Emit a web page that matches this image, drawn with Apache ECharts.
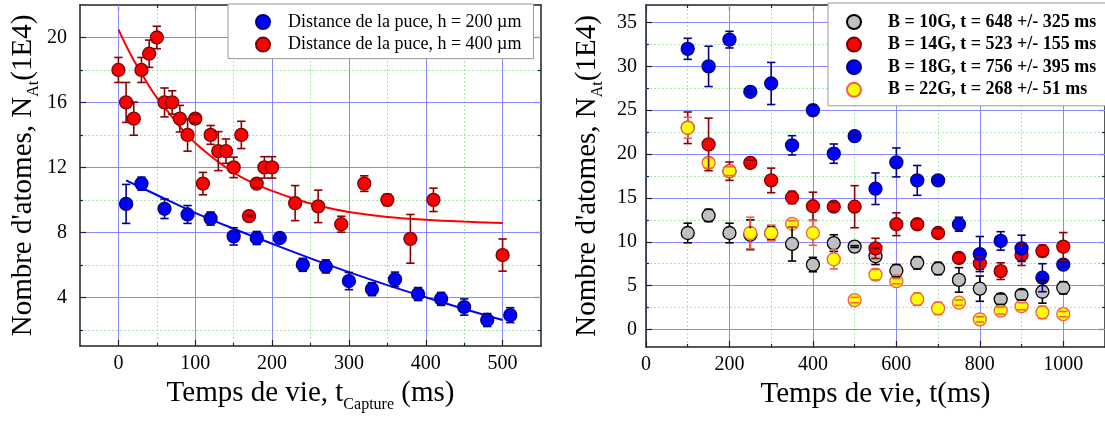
<!DOCTYPE html>
<html><head><meta charset="utf-8">
<script src="https://cdn.jsdelivr.net/npm/echarts@6/dist/echarts.min.js"></script>
<style>html,body{margin:0;padding:0;background:#fff}#c{width:1105px;height:424px}</style>
</head><body><div id="c"></div>
<script>
// ===== Left panel: tick values =====
const leftXTicks = [0, 100, 200, 300, 400, 500];
const leftXMinor = [50, 150, 250, 350, 450];
const leftYTicks = [4, 8, 12, 16, 20];
const leftYMinor = [2, 6, 10, 14, 18];

// ===== Left panel: h = 200 µm =====
const h200Name = 'Distance de la puce, h = 200 µm';
const h200X = [10, 30, 60, 90, 120, 150, 180, 210, 240, 270, 300, 330, 360, 390, 420, 450, 480, 510];
const h200Y = [9.75, 11.0, 9.45, 9.1, 8.85, 7.75, 7.65, 7.65, 6.0, 5.9, 5.0, 4.5, 5.1, 4.2, 3.9, 3.4, 2.6, 2.9];
const h200Err = [1.2, 0.4, 0.6, 0.55, 0.4, 0.53, 0.4, 0.05, 0.4, 0.4, 0.53, 0.4, 0.45, 0.4, 0.4, 0.5, 0.4, 0.46];
const h200FitX = [10, 50, 100, 150, 200, 250, 300, 350, 400, 450, 500];
const h200FitY = [11.2, 10.3, 9.2, 8.22, 7.3, 6.4, 5.55, 4.75, 4.0, 3.28, 2.6];

// ===== Left panel: h = 400 µm =====
const h400Name = 'Distance de la puce, h = 400 µm';
const h400X = [0, 10, 20, 30, 40, 50, 60, 70, 80, 90, 100, 110, 120, 130, 140, 150, 160, 170, 180, 190, 200, 230, 260, 290, 320, 350, 380, 410, 500];
const h400Y = [18, 16, 15, 18, 19, 20, 16, 16, 15, 14, 15, 11, 14, 13, 13, 12, 14, 9, 11, 12, 12, 9.8, 9.6, 8.5, 11, 10, 7.6, 10, 6.6];
const h400Err = [0.77, 1.23, 1.02, 0.77, 0.84, 0.69, 0.89, 0.72, 0.82, 1.0, 0.25, 0.69, 0.58, 1.2, 0.75, 0.63, 0.84, 0.05, 0.25, 0.66, 0.66, 1.08, 1.0, 0.49, 0.48, 0.35, 1.5, 0.72, 0.99];
const h400FitX = [0, 10, 20, 30, 40, 50, 60, 70, 80, 90, 100, 120, 140, 160, 180, 200, 230, 260, 300, 350, 400, 450, 500];
const h400FitY = [20.5, 19.5, 18.6, 17.8, 17.0, 16.3, 15.7, 15.1, 14.5, 14.0, 13.5, 12.7, 12.0, 11.4, 10.95, 10.55, 10.05, 9.65, 9.25, 8.95, 8.78, 8.66, 8.57];

// ===== Right panel: tick values =====
const rightXTicks = [0, 200, 400, 600, 800, 1000];
const rightXMinor = [100, 300, 500, 700, 900];
const rightYTicks = [0, 5, 10, 15, 20, 25, 30, 35];
const rightYMinor = [2.5, 7.5, 12.5, 17.5, 22.5, 27.5, 32.5];

// ===== Right panel series =====
const b10Name = 'B = 10G, t = 648 +/- 325 ms';
const b10X = [100, 150, 200, 250, 300, 350, 400, 450, 500, 550, 600, 650, 700, 750, 800, 850, 900, 950, 1000];
const b10Y = [11.0, 13.0, 11.0, 10.8, 11.0, 9.75, 7.4, 9.85, 9.45, 8.35, 6.7, 7.6, 6.95, 5.65, 4.65, 3.45, 3.95, 4.3, 4.75];
const b10Err = [1.12, 0.7, 1.12, 1.7, 0.8, 1.95, 0.82, 0.95, 0.1, 0.95, 0.7, 0.7, 0.7, 1.4, 1.44, 0.6, 0.6, 1.3, 0.7];

const b14Name = 'B = 14G, t = 523 +/- 155 ms';
const b14X = [100, 150, 200, 250, 300, 350, 400, 450, 500, 550, 600, 650, 700, 750, 800, 850, 900, 950, 1000];
const b14Y = [23.0, 21.1, 18.05, 19.0, 17.0, 15.05, 14.05, 14.0, 14.0, 9.25, 12.0, 12.0, 11.0, 8.15, 7.55, 6.65, 8.5, 8.95, 9.45];
const b14Err = [1.8, 3.0, 1.05, 0.3, 1.4, 0.7, 1.6, 0.5, 2.4, 1.15, 1.3, 0.6, 0.5, 0.6, 0.7, 0.95, 1.2, 0.65, 1.6];

const b18Name = 'B = 18G, t = 756 +/- 395 ms';
const b18X = [100, 150, 200, 250, 300, 350, 400, 450, 500, 550, 600, 650, 700, 750, 800, 850, 900, 950, 1000];
const b18Y = [32.0, 30.0, 33.05, 27.1, 28.05, 21.0, 25.0, 20.05, 22.05, 16.05, 19.05, 17.0, 17.0, 12.0, 8.6, 10.1, 9.25, 5.9, 7.4];
const b18Err = [1.2, 2.3, 0.95, 0.2, 2.4, 1.1, 0.6, 1.1, 0.15, 1.8, 1.65, 1.7, 0.15, 0.8, 2.0, 1.05, 1.5, 1.6, 0.3];

const b22Name = 'B = 22G, t = 268 +/- 51 ms';
const b22X = [100, 150, 200, 250, 300, 350, 400, 450, 500, 550, 600, 650, 700, 750, 800, 850, 900, 950, 1000];
const b22Y = [23.0, 19.0, 18.05, 11.0, 11.0, 12.05, 11.0, 8.0, 3.35, 6.25, 5.5, 3.45, 2.4, 3.05, 1.15, 2.15, 2.65, 1.95, 1.75];
const b22Err = [1.2, 0.6, 0.5, 1.8, 0.9, 0.35, 1.4, 1.1, 0.3, 0.6, 0.3, 0.7, 0.7, 0.3, 0.3, 0.4, 0.4, 0.7, 0.3];

// ===== Styling helpers =====
const F = '"Liberation Serif", "DejaVu Serif", serif';
const AXIS_COLOR = '#222';
const MAJOR_GRID = '#8a8aff';
const MINOR_GRID = '#a6e6a6';

function zip2(xs, ys) { return xs.map((x, i) => [x, ys[i]]); }
function zip3(xs, ys, es) { return xs.map((x, i) => [x, ys[i], es[i]]); }
function plainNum(v) { return String(v); }

function axisGroup(dim, gridIndex, min, max, major, minor, mainExtra) {
  const pos = dim === 'x' ? 'bottom' : 'left';
  const opp = dim === 'x' ? 'top' : 'right';
  const base = { type: 'value', gridIndex: gridIndex, min: min, max: max, scale: true };
  const main = Object.assign({}, base, {
    position: pos,
    axisLine: { show: true, onZero: false, lineStyle: { color: AXIS_COLOR, width: 1.5 } },
    axisTick: { show: true, inside: true, length: 6, customValues: major, lineStyle: { color: AXIS_COLOR, width: 1.2 } },
    axisLabel: { show: true, customValues: major, fontFamily: F, fontSize: 20, color: '#000', formatter: plainNum },
    splitLine: { show: true, lineStyle: { color: MAJOR_GRID, width: 1 } },
    z: 1
  }, mainExtra || {});
  const minorAx = Object.assign({}, base, {
    position: pos,
    axisLine: { show: false, onZero: false },
    axisTick: { show: true, inside: true, length: 3, customValues: minor, lineStyle: { color: AXIS_COLOR, width: 1.2 } },
    axisLabel: { show: false },
    splitLine: { show: true, lineStyle: { color: MINOR_GRID, width: 1, type: [2, 2] } },
    z: 0
  });
  const mirror = Object.assign({}, base, {
    position: opp,
    axisLine: { show: true, onZero: false, lineStyle: { color: AXIS_COLOR, width: 1.5 } },
    axisTick: { show: true, inside: true, length: 6, customValues: major, lineStyle: { color: AXIS_COLOR, width: 1.2 } },
    axisLabel: { show: false },
    splitLine: { show: false }
  });
  const mirrorMinor = Object.assign({}, base, {
    position: opp,
    axisLine: { show: false, onZero: false },
    axisTick: { show: true, inside: true, length: 3, customValues: minor, lineStyle: { color: AXIS_COLOR, width: 1.2 } },
    axisLabel: { show: false },
    splitLine: { show: false }
  });
  return [main, minorAx, mirror, mirrorMinor];
}

function errRender(color) {
  return function (params, api) {
    const x = api.value(0), y = api.value(1), e = api.value(2);
    const c = api.coord([x, y]);
    const t = api.coord([x, y + e]);
    const b = api.coord([x, y - e]);
    const r = 6.5, hw = 4.2;
    const st = { stroke: color, lineWidth: 1.6 };
    const ch = [
      { type: 'line', shape: { x1: t[0] - hw, y1: t[1], x2: t[0] + hw, y2: t[1] }, style: st },
      { type: 'line', shape: { x1: b[0] - hw, y1: b[1], x2: b[0] + hw, y2: b[1] }, style: st }
    ];
    if (c[1] - t[1] > r) ch.push({ type: 'line', shape: { x1: c[0], y1: t[1], x2: c[0], y2: c[1] - r }, style: st });
    if (b[1] - c[1] > r) ch.push({ type: 'line', shape: { x1: c[0], y1: c[1] + r, x2: c[0], y2: b[1] }, style: st });
    return { type: 'group', children: ch };
  };
}

function scatterSeries(name, xi, yi, xs, ys, fill, border) {
  return {
    name: name, type: 'scatter', xAxisIndex: xi, yAxisIndex: yi,
    data: zip2(xs, ys), symbol: 'circle', symbolSize: 13,
    itemStyle: { color: fill, borderColor: border, borderWidth: 1.3, opacity: 1 },
    z: 3, silent: true
  };
}
function errSeries(xi, yi, xs, ys, es, color) {
  return {
    type: 'custom', xAxisIndex: xi, yAxisIndex: yi,
    data: zip3(xs, ys, es), encode: { x: 0, y: 1 },
    renderItem: errRender(color), z: 4, silent: true
  };
}
function fitSeries(xi, yi, xs, ys, color) {
  return {
    type: 'line', xAxisIndex: xi, yAxisIndex: yi, data: zip2(xs, ys),
    showSymbol: false, symbol: 'none', smooth: 0.4,
    lineStyle: { color: color, width: 2 }, z: 2, silent: true
  };
}

const yName = "Nombre d'atomes, N{sub|At}(1E4)";
const nameStyle = {
  fontFamily: F, fontSize: 29, color: '#000',
  rich: { sub: { fontFamily: F, fontSize: 16, color: '#000', padding: [22, 0, 0, 0], verticalAlign: 'bottom' } }
};

const xAxes = [].concat(
  axisGroup('x', 0, -50, 550, leftXTicks, leftXMinor, {
    name: 'Temps de vie, t{sub|Capture} (ms)', nameLocation: 'middle', nameGap: 28, nameTextStyle: nameStyle,
    axisLabel: { show: true, customValues: leftXTicks, fontFamily: F, fontSize: 20, color: '#000', margin: 8, formatter: plainNum }
  }),
  axisGroup('x', 1, 0, 1100, rightXTicks, rightXMinor, {
    name: 'Temps de vie, t(ms)', nameLocation: 'middle', nameGap: 32, nameTextStyle: nameStyle,
    axisLabel: { show: true, customValues: rightXTicks, fontFamily: F, fontSize: 20, color: '#000', margin: 8, formatter: plainNum }
  })
);
const yAxes = [].concat(
  axisGroup('y', 0, 1, 22, leftYTicks, leftYMinor, {
    name: yName, nameLocation: 'middle', nameRotate: 90, nameGap: 38, nameTextStyle: nameStyle,
    axisLabel: { show: true, customValues: leftYTicks, fontFamily: F, fontSize: 20, color: '#000', margin: 13, formatter: plainNum }
  }),
  axisGroup('y', 1, -2, 37, rightYTicks, rightYMinor, {
    name: yName, nameLocation: 'middle', nameRotate: 90, nameGap: 40, nameTextStyle: nameStyle,
    axisLabel: { show: true, customValues: rightYTicks, fontFamily: F, fontSize: 20, color: '#000', margin: 9, formatter: plainNum }
  })
);

const legendBase = {
  orient: 'vertical', icon: 'circle', itemWidth: 14, itemHeight: 14, itemGap: 4.6,
  borderColor: '#999', borderWidth: 1, backgroundColor: '#fff', selectedMode: false,
  inactiveColor: '#000'
};

const option = {
  animation: false,
  backgroundColor: '#fff',
  grid: [
    { left: 80, top: 5, width: 461, height: 341, containLabel: false },
    { left: 646, top: 5, width: 460, height: 342, containLabel: false }
  ],
  xAxis: xAxes,
  yAxis: yAxes,
  legend: [
    Object.assign({}, legendBase, {
      data: [h200Name, h400Name], left: 228, top: 4, padding: [9, 12, 5, 27],
      textStyle: { fontFamily: F, fontSize: 18, color: '#000', lineHeight: 18, padding: [0, 0, 0, 13] }
    }),
    Object.assign({}, legendBase, {
      data: [b10Name, b14Name, b18Name, b22Name], left: 828, top: 3, padding: [10, 30, 7, 18],
      textStyle: { fontFamily: F, fontSize: 18, fontWeight: 'bold', color: '#000', lineHeight: 18, padding: [0, 0, 0, 22] }
    })
  ],
  series: [
    fitSeries(0, 0, h400FitX, h400FitY, '#ff0000'),
    fitSeries(0, 0, h200FitX, h200FitY, '#0000ff'),
    scatterSeries(h200Name, 0, 0, h200X, h200Y, '#0000ff', '#00007a'),
    errSeries(0, 0, h200X, h200Y, h200Err, '#00008b'),
    scatterSeries(h400Name, 0, 0, h400X, h400Y, '#ff0000', '#7a0000'),
    errSeries(0, 0, h400X, h400Y, h400Err, '#8b0000'),

    scatterSeries(b10Name, 4, 4, b10X, b10Y, '#c0c0c0', '#000000'),
    errSeries(4, 4, b10X, b10Y, b10Err, '#000000'),
    scatterSeries(b14Name, 4, 4, b14X, b14Y, '#ff0000', '#7a0000'),
    errSeries(4, 4, b14X, b14Y, b14Err, '#8b0000'),
    scatterSeries(b18Name, 4, 4, b18X, b18Y, '#0000ff', '#00007a'),
    errSeries(4, 4, b18X, b18Y, b18Err, '#00008b'),
    scatterSeries(b22Name, 4, 4, b22X, b22Y, '#ffff00', '#f0604a'),
    errSeries(4, 4, b22X, b22Y, b22Err, '#f0604a')
  ]
};

const chart = echarts.init(document.getElementById('c'), null, { renderer: 'canvas', width: 1105, height: 424 });
chart.setOption(option);
</script>
</body></html>
